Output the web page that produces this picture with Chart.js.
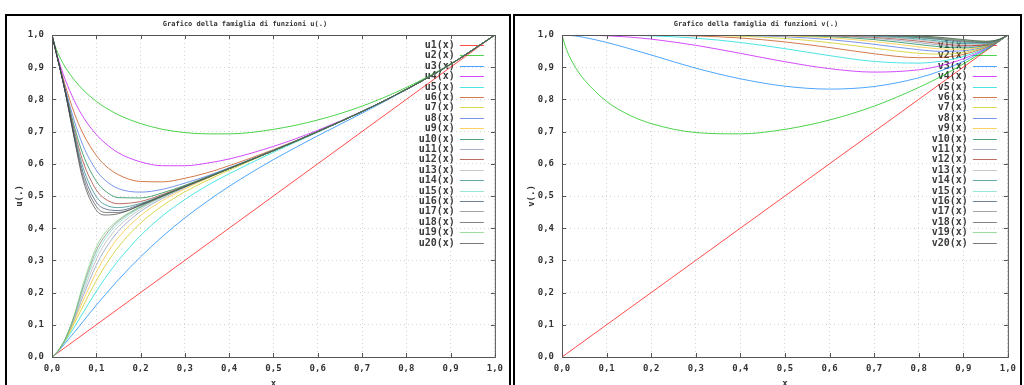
<!DOCTYPE html>
<html>
<head>
<meta charset="utf-8">
<script src="https://cdn.jsdelivr.net/npm/chart.js@4"></script>
<style>
body { margin:0; background:#fff; width:1024px; height:385px; overflow:hidden; position:relative; }
.frame { position:absolute; top:14px; height:380px; border:2px solid #000; border-bottom:none; }
canvas { position:absolute; }
</style>
</head>
<body>
<div class="frame" style="left:5px;width:502px"></div>
<div class="frame" style="left:513px;width:505px"></div>
<canvas id="left" width="502" height="369" style="left:7px;top:16px"></canvas>
<canvas id="right" width="507" height="369" style="left:515px;top:16px"></canvas>
<script>
// left plot: u1..u20, sampled at uX
const uX = [0,.01,.02,.03,.05,.07,.1,.12,.15,.2,.25,.3,.35,.4,.5,.6,.7,.8,.9,1];
const u1  = [0,.01,.02,.03,.05,.07,.1,.12,.15,.2,.25,.3,.35,.4,.5,.6,.7,.8,.9,1];
const u2  = [1,.955,.925,.900,.861,.830,.794,.775,.752,.725,.707,.697,.693,.693,.707,.736,.779,.837,.910,1];
const u3  = [0,.012,.027,.043,.076,.110,.161,.193,.240,.311,.375,.432,.483,.530,.613,.687,.757,.830,.909,1];
const u4  = [1,.945,.900,.861,.797,.746,.691,.664,.634,.606,.594,.594,.602,.615,.654,.704,.763,.831,.909,1];
const u5  = [0,.013,.030,.049,.092,.137,.204,.245,.300,.377,.439,.489,.532,.569,.636,.698,.762,.831,.909,1];
const u6  = [1,.942,.891,.843,.759,.694,.626,.595,.566,.545,.544,.555,.572,.594,.644,.700,.762,.831,.909,1];
const u7  = [0,.013,.031,.052,.103,.158,.237,.283,.342,.416,.470,.513,.548,.580,.640,.699,.762,.831,.909,1];
const u8  = [1,.942,.887,.833,.735,.657,.580,.549,.523,.512,.521,.540,.562,.588,.642,.700,.762,.831,.909,1];
const u9  = [0,.013,.031,.054,.111,.174,.263,.312,.371,.439,.486,.522,.554,.584,.641,.700,.762,.831,.909,1];
const u10 = [1,.942,.885,.828,.718,.629,.546,.516,.495,.494,.510,.533,.559,.586,.641,.700,.762,.831,.909,1];
const u11 = [0,.013,.031,.055,.116,.188,.285,.335,.391,.452,.493,.526,.556,.585,.641,.700,.762,.831,.909,1];
const u12 = [1,.942,.885,.825,.706,.607,.519,.491,.476,.483,.505,.531,.558,.585,.641,.700,.762,.831,.909,1];
const u13 = [0,.013,.031,.055,.121,.199,.303,.353,.405,.459,.497,.528,.557,.585,.641,.700,.762,.831,.909,1];
const u14 = [1,.942,.884,.823,.696,.589,.498,.473,.464,.477,.502,.530,.557,.585,.641,.700,.762,.831,.909,1];
const u15 = [0,.013,.031,.056,.124,.209,.318,.367,.415,.464,.498,.529,.557,.585,.641,.700,.762,.831,.909,1];
const u16 = [1,.942,.884,.822,.689,.574,.481,.460,.455,.474,.501,.529,.557,.585,.641,.700,.762,.831,.909,1];
const u17 = [0,.013,.032,.056,.127,.217,.330,.377,.422,.466,.499,.529,.557,.585,.641,.700,.762,.831,.909,1];
const u18 = [1,.942,.884,.822,.684,.561,.468,.449,.449,.472,.501,.529,.557,.585,.641,.700,.762,.831,.909,1];
const u19 = [0,.013,.032,.056,.129,.225,.341,.386,.426,.468,.500,.529,.557,.585,.641,.700,.762,.831,.909,1];
const u20 = [1,.942,.884,.822,.680,.550,.456,.441,.445,.471,.500,.529,.557,.585,.641,.700,.762,.831,.909,1];
const uSeries = [u1,u2,u3,u4,u5,u6,u7,u8,u9,u10,u11,u12,u13,u14,u15,u16,u17,u18,u19,u20];

// right plot: v1..v20, sampled at vX
const vX = [0,.01,.03,.05,.1,.15,.2,.3,.4,.5,.6,.7,.8,.85,.9,.95,.98,1];
const v1  = [0,.01,.03,.05,.1,.15,.2,.3,.4,.5,.6,.7,.8,.85,.9,.95,.98,1];
const v2  = [1,.955,.900,.861,.794,.752,.725,.697,.693,.707,.736,.779,.837,.871,.910,.952,.980,1];
const v3  = [1,.9995,.997,.9925,.977,.958,.938,.897,.864,.841,.832,.840,.867,.889,.918,.955,.981,1];
const v4  = [1,1,.9999,.9996,.9977,.9936,.9872,.968,.943,.917,.8955,.8848,.892,.905,.9261,.957,.9812,1];
const v5  = [1,1,1,1,.9998,.999,.9974,.9903,.9768,.9576,.9359,.9179,.9127,.9187,.9332,.9591,.9815,1];
const v6  = [1,1,1,1,1,.9999,.9995,.9971,.9907,.9786,.9611,.9418,.9295,.9304,.9397,.9611,.9819,1];
const v7  = [1,1,1,1,1,1,.9999,.9991,.9963,.9892,.9764,.9589,.9432,.9405,.9455,.963,.9823,1];
const v8  = [1,1,1,1,1,1,1,.9997,.9985,.9946,.9858,.9711,.9543,.9492,.9509,.9648,.9826,1];
const v9  = [1,1,1,1,1,1,1,.9999,.9994,.9973,.9915,.9796,.9633,.9567,.9557,.9665,.983,1];
const v10 = [1,1,1,1,1,1,1,1,.9998,.9987,.9949,.9857,.9705,.9631,.96,.9682,.9833,1];
const v11 = [1,1,1,1,1,1,1,1,.9999,.9993,.9969,.99,.9763,.9685,.9639,.9698,.9836,1];
const v12 = [1,1,1,1,1,1,1,1,1,.9997,.9981,.993,.981,.9732,.9675,.9712,.984,1];
const v13 = [1,1,1,1,1,1,1,1,1,.9998,.9989,.9951,.9848,.9771,.9707,.9727,.9843,1];
const v14 = [1,1,1,1,1,1,1,1,1,.9999,.9993,.9965,.9878,.9805,.9736,.974,.9846,1];
const v15 = [1,1,1,1,1,1,1,1,1,1,.9996,.9976,.9902,.9834,.9762,.9753,.9849,1];
const v16 = [1,1,1,1,1,1,1,1,1,1,.9998,.9983,.9922,.9859,.9785,.9765,.9852,1];
const v17 = [1,1,1,1,1,1,1,1,1,1,.9999,.9988,.9937,.988,.9807,.9777,.9855,1];
const v18 = [1,1,1,1,1,1,1,1,1,1,.9999,.9992,.995,.9898,.9826,.9788,.9858,1];
const v19 = [1,1,1,1,1,1,1,1,1,1,1,.9994,.996,.9913,.9843,.9798,.9861,1];
const v20 = [1,1,1,1,1,1,1,1,1,1,1,.9996,.9968,.9926,.9859,.9808,.9863,1];
const vSeries = [v1,v2,v3,v4,v5,v6,v7,v8,v9,v10,v11,v12,v13,v14,v15,v16,v17,v18,v19,v20];

const palette = ['#ff0000','#00c000','#0080ff','#c000ff','#00d8d8','#c04000','#c8c800','#4169e1','#ffc020','#008040',
                 '#8090b0','#a03020','#b0b0b0','#208080','#70d8c8','#304870','#808080','#505050','#70d070','#404040'];

const MONO = '"DejaVu Sans Mono", monospace';
const fmt = v => v.toFixed(1).replace('.', ',');

// the reference lines look washed out
function pale(hex) {
  const n = parseInt(hex.slice(1), 16);
  return 'rgba(' + (n >> 16) + ',' + ((n >> 8) & 255) + ',' + (n & 255) + ',0.7)';
}

function makeSets(xs, series, prefix) {
  return series.map((ys, i) => ({
    label: prefix + (i + 1) + '(x)',
    data: xs.map((x, j) => ({x: x, y: ys[j]})),
    borderColor: pale(palette[i]),
    borderWidth: 1,
    pointRadius: 0,
    cubicInterpolationMode: 'monotone',
    fill: false,
    order: -i
  }));
}

// gnuplot look: key under the curves, title, labels, border, inward ticks
const gnuplotLook = {
  id: 'gnuplotLook',
  beforeDatasetsDraw(chart) {
    const ctx = chart.ctx, a = chart.chartArea;
    ctx.save();
    ctx.font = 'bold 10px ' + MONO;
    ctx.textAlign = 'right';
    ctx.textBaseline = 'middle';
    chart.data.datasets.forEach((ds, i) => {
      const y = Math.round(a.top + 10 + i * 10.4);
      ctx.fillStyle = '#3a3a3a';
      ctx.fillText(ds.label, a.right - 40, y);
      ctx.strokeStyle = ds.borderColor;
      ctx.lineWidth = 1;
      ctx.beginPath();
      ctx.moveTo(a.right - 35, y + 0.5);
      ctx.lineTo(a.right - 11, y + 0.5);
      ctx.stroke();
    });
    ctx.restore();
  },
  afterDraw(chart) {
    const ctx = chart.ctx, a = chart.chartArea;
    const o = chart.options.plugins.gnuplotLook;
    ctx.save();
    ctx.strokeStyle = '#555';
    ctx.lineWidth = 1;
    ctx.strokeRect(a.left + 0.5, a.top + 0.5, a.right - a.left, a.bottom - a.top);
    const sx = chart.scales.x, sy = chart.scales.y;
    ctx.beginPath();
    sx.ticks.forEach(t => {
      const px = Math.round(sx.getPixelForValue(t.value)) + 0.5;
      ctx.moveTo(px, a.bottom); ctx.lineTo(px, a.bottom - 4);
      ctx.moveTo(px, a.top); ctx.lineTo(px, a.top + 4);
    });
    sy.ticks.forEach(t => {
      const py = Math.round(sy.getPixelForValue(t.value)) + 0.5;
      ctx.moveTo(a.left, py); ctx.lineTo(a.left + 4, py);
      ctx.moveTo(a.right, py); ctx.lineTo(a.right - 4, py);
    });
    ctx.stroke();
    ctx.fillStyle = '#333';
    ctx.textAlign = 'center';
    ctx.textBaseline = 'middle';
    ctx.font = 'bold 7px ' + MONO;
    ctx.fillText(o.title, o.titleX, 8);
    ctx.font = 'bold 9px ' + MONO;
    ctx.fillText('x', (a.left + a.right) / 2, 368);
    ctx.translate(o.ylabelX, (a.top + a.bottom) / 2);
    ctx.rotate(-Math.PI / 2);
    ctx.fillText(o.ylabel, 0, 0);
    ctx.restore();
  }
};

function makeChart(id, xs, series, prefix, yWidth, padRight, titleX, ylabelX) {
  const tickFont = {family: MONO, size: 9, weight: 'bold'};
  return new Chart(document.getElementById(id), {
    type: 'line',
    data: {datasets: makeSets(xs, series, prefix)},
    options: {
      responsive: false,
      animation: false,
      layout: {padding: {top: 19, right: padRight, left: 0, bottom: 0}},
      plugins: {
        legend: {display: false},
        tooltip: {enabled: false},
        gnuplotLook: {title: 'Grafico della famiglia di funzioni ' + prefix + '(.)', titleX: titleX, ylabel: prefix + '(.)', ylabelX: ylabelX}
      },
      scales: {
        x: {
          type: 'linear', min: 0, max: 1,
          ticks: {stepSize: 0.1, padding: 6, color: '#333', font: tickFont, callback: fmt, autoSkip: false, maxRotation: 0},
          grid: {color: '#d4d4d4', drawTicks: false},
          border: {display: false, dash: [1, 3]},
          afterFit(s) { s.height = 28; }
        },
        y: {
          type: 'linear', min: 0, max: 1,
          ticks: {stepSize: 0.1, padding: 8, color: '#333', font: tickFont, callback: fmt},
          grid: {color: '#d4d4d4', drawTicks: false},
          border: {display: false, dash: [1, 3]},
          afterFit(s) { s.width = yWidth; }
        }
      }
    },
    plugins: [gnuplotLook]
  });
}

makeChart('left', uX, uSeries, 'u', 45, 7, 238, 13);
makeChart('right', vX, vSeries, 'v', 47, 8, 241, 17);
</script>
</body>
</html>
